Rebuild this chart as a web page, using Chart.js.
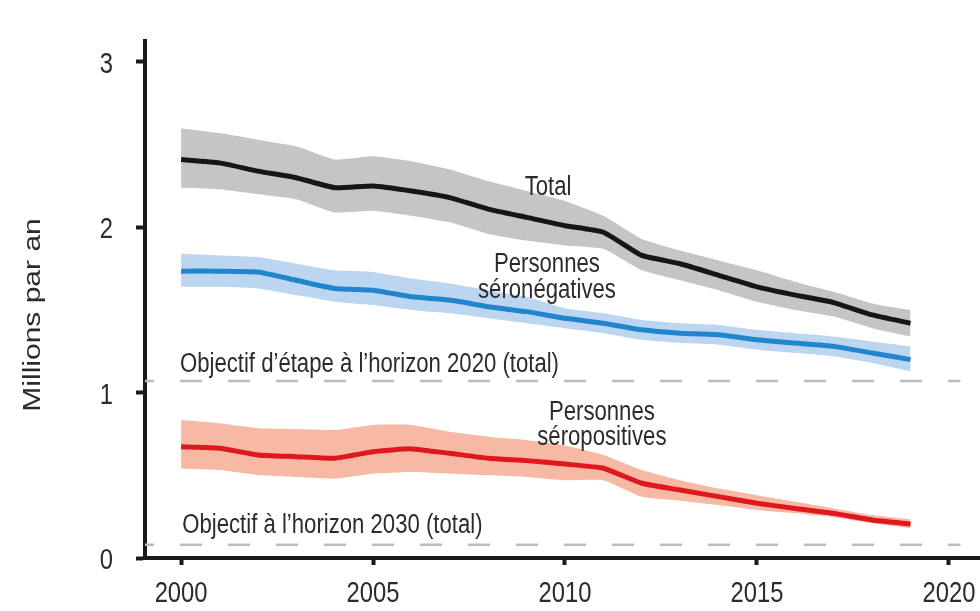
<!DOCTYPE html>
<html lang="fr">
<head>
<meta charset="utf-8">
<title>Nouvelles infections à VIH, 2000–2019</title>
<script src="https://cdn.jsdelivr.net/npm/chart.js@4.4.1/dist/chart.umd.min.js"></script>
<style>
  html, body { margin: 0; padding: 0; background: #ffffff; }
  #wrap { position: relative; width: 980px; height: 611px; }
</style>
</head>
<body>
<div id="wrap"><canvas id="chart"></canvas></div>
<script>
// Années
const years = [2000, 2001, 2002, 2003, 2004, 2005, 2006, 2007, 2008, 2009,
               2010, 2011, 2012, 2013, 2014, 2015, 2016, 2017, 2018, 2019];

// Total (millions par an) et intervalle d'incertitude
const total     = [2.41, 2.39, 2.34, 2.30, 2.24, 2.25, 2.22, 2.18, 2.11, 2.06,
                   2.01, 1.97, 1.83, 1.78, 1.71, 1.64, 1.59, 1.545, 1.47, 1.42];
const totalHigh = [2.60, 2.57, 2.53, 2.49, 2.41, 2.43, 2.40, 2.35, 2.28, 2.22,
                   2.16, 2.07, 1.93, 1.86, 1.80, 1.74, 1.67, 1.61, 1.54, 1.50];
const totalLow  = [2.24, 2.23, 2.20, 2.17, 2.09, 2.10, 2.07, 2.03, 1.96, 1.92,
                   1.89, 1.87, 1.74, 1.68, 1.62, 1.55, 1.50, 1.46, 1.39, 1.34];

// Personnes séronégatives
const negative     = [1.735, 1.735, 1.73, 1.68, 1.63, 1.62, 1.58, 1.56, 1.52, 1.49,
                      1.45, 1.42, 1.38, 1.36, 1.35, 1.32, 1.30, 1.28, 1.24, 1.20];
const negativeHigh = [1.84, 1.83, 1.82, 1.78, 1.74, 1.73, 1.69, 1.66, 1.62, 1.58,
                      1.51, 1.48, 1.44, 1.42, 1.41, 1.38, 1.36, 1.34, 1.31, 1.28];
const negativeLow  = [1.64, 1.64, 1.63, 1.59, 1.55, 1.53, 1.50, 1.48, 1.45, 1.42,
                      1.39, 1.36, 1.32, 1.30, 1.29, 1.26, 1.24, 1.22, 1.18, 1.13];

// Personnes séropositives
const positive     = [0.673, 0.664, 0.623, 0.613, 0.603, 0.643, 0.66, 0.633, 0.603, 0.589,
                      0.568, 0.543, 0.452, 0.411, 0.371, 0.331, 0.30, 0.27, 0.23, 0.206];
const positiveHigh = [0.835, 0.815, 0.785, 0.78, 0.774, 0.805, 0.805, 0.764, 0.734, 0.714,
                      0.68, 0.623, 0.532, 0.47, 0.42, 0.38, 0.34, 0.30, 0.26, 0.234];
const positiveLow  = [0.54, 0.532, 0.502, 0.49, 0.48, 0.51, 0.52, 0.51, 0.50, 0.49,
                      0.47, 0.47, 0.37, 0.347, 0.32, 0.29, 0.27, 0.246, 0.21, 0.18];

// Objectifs (total)
const target2020 = 1.07;
const target2030 = 0.08;

// Graduations
const xTicks = [2000, 2005, 2010, 2015, 2020];
const yTicks = [0, 1, 2, 3];

const X_MIN = 1999.06, X_MAX = 2020.81, Y_MIN = 0, Y_MAX = 3.127;
const TARGET_END = 2020.3;

const pts = arr => years.map((yr, i) => ({ x: yr, y: arr[i] }));
const hline = v => [{ x: X_MIN, y: v }, { x: TARGET_END, y: v }];

const INK = '#1a1a1a';
const TEXT = '#2b2b2b';
const SANS = "'Liberation Sans', Arial, sans-serif";
const SQUASH = 0.82; // police condensée

function band(data, color, fill) {
  return { data: pts(data), borderWidth: 0, pointRadius: 0, backgroundColor: color,
           fill: fill, tension: 0.15, order: 3 };
}
function line(data, color) {
  return { data: pts(data), borderColor: color, borderWidth: 5, pointRadius: 0,
           fill: false, tension: 0.15, borderCapStyle: 'butt', borderJoinStyle: 'round', order: 1 };
}
function dashed(v) {
  return { data: hline(v), borderColor: '#bdbdbd', borderWidth: 2.5,
           borderDash: [22, 26], borderDashOffset: 13,
           pointRadius: 0, fill: false, tension: 0, order: 2 };
}

// Texte condensé : libellés des graduations, des courbes et titre d'axe
const textPlugin = {
  id: 'condensedText',
  afterDatasetsDraw(chart) {
    const { ctx, scales: { x, y } } = chart;
    const putPx = (text, px, py, size, align) => {
      ctx.save();
      ctx.translate(px, py);
      ctx.scale(SQUASH, 1);
      ctx.font = size + 'px ' + SANS;
      ctx.fillStyle = TEXT;
      ctx.textAlign = align;
      ctx.textBaseline = 'alphabetic';
      ctx.fillText(text, 0, 0);
      ctx.restore();
    };
    const put = (text, xv, yv, size, align) =>
      putPx(text, x.getPixelForValue(xv), y.getPixelForValue(yv), size, align);

    // Graduations
    x.ticks.forEach(t => putPx(String(t.value), x.getPixelForValue(t.value), x.top + 44, 29, 'center'));
    y.ticks.forEach(t => putPx(String(t.value), y.right - 32, y.getPixelForValue(t.value) + 11, 29, 'right'));

    // Libellés des courbes
    put('Total', 2009.56, 2.196, 27, 'center');
    put('Personnes', 2009.53, 1.73, 27, 'center');
    put('séronégatives', 2009.53, 1.573, 27, 'center');
    put('Personnes', 2010.96, 0.835, 27, 'center');
    put('séropositives', 2010.96, 0.683, 27, 'center');
    put('Objectif d\u2019étape à l\u2019horizon 2020 (total)', 1999.97, 1.125, 27, 'left');
    put('Objectif à l\u2019horizon 2030 (total)', 2000.03, 0.151, 27, 'left');

    // Titre de l'axe vertical
    ctx.save();
    ctx.translate(33, y.getPixelForValue(1.47));
    ctx.rotate(-Math.PI / 2);
    ctx.scale(1, 0.81);
    ctx.font = '30px ' + SANS;
    ctx.fillStyle = TEXT;
    ctx.textAlign = 'center';
    ctx.textBaseline = 'middle';
    ctx.fillText('Millions par an', 0, 0);
    ctx.restore();
  }
};

new Chart(document.getElementById('chart'), {
  type: 'line',
  data: {
    datasets: [
      band(totalLow, '#c5c5c7', false),
      band(totalHigh, '#c5c5c7', '-1'),
      band(negativeLow, '#bcd6f1', false),
      band(negativeHigh, '#bcd6f1', '-1'),
      band(positiveLow, '#f7b8a4', false),
      band(positiveHigh, '#f7b8a4', '-1'),
      dashed(target2020),
      dashed(target2030),
      line(total, '#161616'),
      line(negative, '#2085cc'),
      line(positive, '#e0171d')
    ]
  },
  options: {
    responsive: true,
    maintainAspectRatio: false,
    animation: false,
    layout: { padding: { top: 41, right: 0, left: 0, bottom: 0 } },
    plugins: { legend: { display: false }, tooltip: { enabled: false } },
    scales: {
      x: {
        type: 'linear',
        min: X_MIN, max: X_MAX,
        afterBuildTicks: s => { s.ticks = xTicks.map(v => ({ value: v })); },
        afterFit: s => { s.height = 53; },
        border: { display: true, color: INK, width: 4 },
        grid: { display: true, drawOnChartArea: false, drawTicks: true,
                tickLength: 7, tickWidth: 4, tickColor: INK, color: INK },
        ticks: { display: false }
      },
      y: {
        type: 'linear',
        min: Y_MIN, max: Y_MAX,
        afterBuildTicks: s => { s.ticks = yTicks.map(v => ({ value: v })); },
        afterFit: s => { s.width = 145; },
        border: { display: true, color: INK, width: 4 },
        grid: { display: true, drawOnChartArea: false, drawTicks: true,
                tickLength: 9, tickWidth: 4, tickColor: INK, color: INK },
        ticks: { display: false }
      }
    }
  },
  plugins: [textPlugin]
});
</script>
</body>
</html>
